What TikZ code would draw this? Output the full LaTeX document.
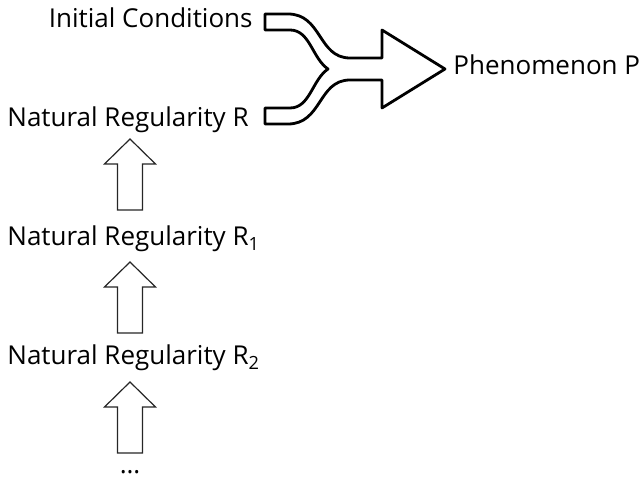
\documentclass[tikz,border=0pt]{standalone}
\usepackage{fontspec}
\setmainfont{Open Sans}
\usetikzlibrary{positioning}

\tikzset{
  label/.style={inner sep=0pt,font=\fontsize{13}{15}\selectfont},
  hollow/.style={draw=black!85,fill=white,line width=0.6pt},
  merge/.style={draw=black,fill=white,line width=1.4pt,line join=round},
  uparrow/.pic={
    \draw[hollow] (-12.5,0) -- (12.5,0) -- (12.5,-46) -- (25.5,-46)
      -- (0,-71) -- (-25.5,-46) -- (-12.5,-46) -- cycle;
  }
}

\begin{document}
\begin{tikzpicture}[x=0.5pt,y=-0.5pt]
		\useasboundingbox (0,0) rectangle (644,480);
		% text labels
		\node(IC) [label,anchor=base east] at (253,28) {Initial Conditions};
		\node(R) [label,anchor=base west] at (7,127) {Natural Regularity R};
		\node(R1) [label,anchor=base west] at (7,246) {Natural Regularity R\textsubscript{1}};
		\node(R2) [label,anchor=base west] at (7,365) {Natural Regularity R\textsubscript{2}};
		\node(dots) [label] at (130,472) {\dots};
		\node(P) [label,anchor=base west] at (453,75) {Phenomenon P};
		% merging arrow
		\draw[merge] (265,14) -- (288,14)
			.. controls (322,14) and (318,58) .. (350,58) -- (382,58)
			-- (382,30) -- (445,69) -- (382,108) -- (382,80) -- (350,80)
			.. controls (318,80) and (322,124) .. (288,124) -- (265,124)
			-- (265,108) -- (290,108)
			.. controls (310,108) and (312,80) .. (328,69)
			.. controls (312,58) and (310,30) .. (290,30)
			-- (265,30) -- cycle;
		% upward arrows
		\pic at (130,210) {uparrow};
		\pic at (130,333) {uparrow};
		\pic at (130,453) {uparrow};
	\end{tikzpicture}
\end{document}
